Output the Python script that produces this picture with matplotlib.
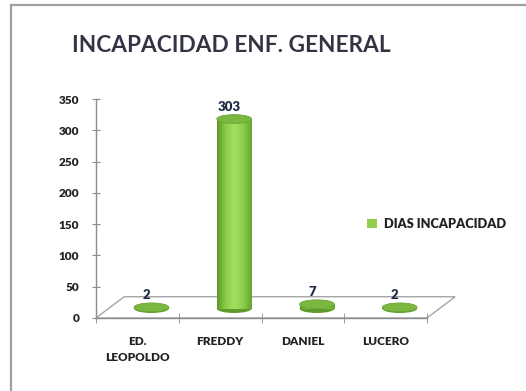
import numpy as np
import matplotlib
matplotlib.use('Agg')
from matplotlib import pyplot as plt
from matplotlib.patches import Ellipse, Polygon, Rectangle
from matplotlib.colors import LinearSegmentedColormap

plt.rcParams['font.family'] = ['Lato', 'DejaVu Sans']

nombres = ['ED.\nLEOPOLDO', 'FREDDY', 'DANIEL', 'LUCERO']
dias = [2, 303, 7, 2]
serie = 'DIAS INCAPACIDAD'
titulo = 'INCAPACIDAD ENF. GENERAL'
y_ticks = [0, 50, 100, 150, 200, 250, 300, 350]

fig = plt.figure(figsize=(5.26, 3.91), dpi=100)
ax = fig.add_axes([96 / 526, 1 - 318 / 391, 331 / 526, 219 / 391])
ax.set_xlim(-0.5, 3.5)
ax.set_ylim(0, 350)

# profundidad del piso 3D (en unidades de datos)
prof_x, prof_y = 0.34, 34
mid_x, mid_y = prof_x / 2, 15
ancho = 0.42
alto_elipse = 14

verde = '#8fcf4c'
verde_osc = '#5f9a2c'
verde_tapa = '#7bb840'
cmap = LinearSegmentedColormap.from_list('cil', ['#5c9a2a', '#8ccd4a', '#a2e063', '#8ccd4a', '#66a532'])

# piso
piso = Polygon([(-0.5, 0), (3.5, 0), (3.5 + prof_x, prof_y), (-0.5 + prof_x, prof_y)],
               closed=True, facecolor='none', edgecolor='#a6a6a6', linewidth=1.0, clip_on=False, zorder=1)
ax.add_patch(piso)

x = np.arange(len(dias))
bars = ax.bar(x + mid_x, dias, width=ancho, bottom=mid_y, color=verde, linewidth=0,
              zorder=3, label=serie)

grad = np.linspace(0, 1, 64).reshape(1, -1)
for xi, v, bar in zip(x, dias, bars):
    cx = xi + mid_x
    # base redondeada del cilindro
    ax.add_patch(Ellipse((cx, mid_y), ancho, alto_elipse, facecolor=verde_osc,
                         edgecolor='none', zorder=2, clip_on=False))
    im = ax.imshow(grad, cmap=cmap, aspect='auto', zorder=3.5,
                   extent=[cx - ancho / 2, cx + ancho / 2, mid_y, mid_y + v])
    im.set_clip_path(bar)
    # tapa superior
    ax.add_patch(Ellipse((cx, mid_y + v), ancho, alto_elipse, facecolor=verde_tapa,
                         edgecolor='#6aa534', linewidth=0.6, zorder=4, clip_on=False))
    ax.annotate(str(v), (cx, mid_y + v), xytext=(-3.5, 9), textcoords='offset points',
                ha='center', va='center', fontsize=9.5, fontweight='heavy', color='#1f2a44')

ax.set_xlim(-0.5, 3.5)
ax.set_ylim(0, 350)

for s in ['top', 'right']:
    ax.spines[s].set_visible(False)
for s in ['left', 'bottom']:
    ax.spines[s].set_color('#8c8c8c')
    ax.spines[s].set_linewidth(1.0)

ax.set_yticks(y_ticks)
ax.set_yticklabels([str(t) for t in y_ticks], fontsize=8.5, fontweight='heavy', color='#222222')
ax.set_xticks(x)
ax.set_xticklabels(nombres, fontsize=8.5, fontweight='heavy', color='#222222', linespacing=1.55, va='top')
ax.set_xticks(np.arange(-0.5, 4, 1), minor=True)
ax.tick_params(axis='x', which='major', length=0, pad=13)
ax.tick_params(axis='x', which='minor', direction='inout', length=7, color='#8c8c8c')
ax.tick_params(axis='y', direction='inout', length=6, color='#8c8c8c', pad=9)

fig.text(72 / 526, 1 - 46 / 391, titulo, ha='left', va='center', fontsize=16.3,
         fontweight='bold', color='#333344')

leg = ax.legend(handles=[Rectangle((0, 0), 1, 1, facecolor=verde, edgecolor='none')], labels=[serie],
                loc='center left', bbox_to_anchor=(367 / 526, 1 - 224 / 391), bbox_transform=fig.transFigure,
                frameon=False, fontsize=9.2, handlelength=0.8, handleheight=0.8, handletextpad=0.55,
                borderaxespad=0, borderpad=0)
for t in leg.get_texts():
    t.set_fontweight('heavy')
    t.set_color('#222222')

# marco del gráfico
fig.add_artist(plt.Line2D([11 / 526, 1], [1 - 5 / 391, 1 - 5 / 391], transform=fig.transFigure,
                          color='#a0a0a0', linewidth=1.6))
fig.add_artist(plt.Line2D([11 / 526, 11 / 526], [0, 1 - 5 / 391], transform=fig.transFigure,
                          color='#a0a0a0', linewidth=1.6))

fig.savefig('out.png', dpi=100)
